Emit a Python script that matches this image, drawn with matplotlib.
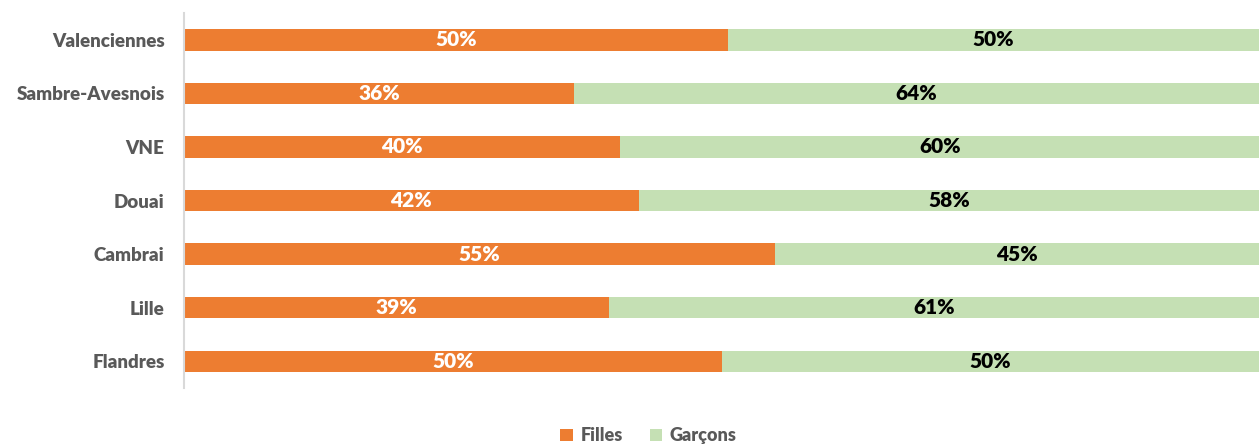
import matplotlib
matplotlib.use("Agg")
import matplotlib.pyplot as plt
import numpy as np

plt.rcParams['font.family'] = ['Lato', 'DejaVu Sans']
plt.rcParams['font.weight'] = 'heavy'

# top to bottom as in the picture
zones = ["Valenciennes", "Sambre-Avesnois", "VNE", "Douai", "Cambrai", "Lille", "Flandres"]
filles = [50.6, 36.3, 40.6, 42.3, 55.0, 39.5, 50.0]
garcons = [49.4, 63.7, 59.4, 57.7, 45.0, 60.5, 50.0]
labels_filles = ["50%", "36%", "40%", "42%", "55%", "39%", "50%"]
labels_garcons = ["50%", "64%", "60%", "58%", "45%", "61%", "50%"]

ORANGE = "#ED7D31"
GREEN = "#C5E0B4"
GREY = "#595959"

fig = plt.figure(figsize=(12.59, 4.45), dpi=100)
ax = fig.add_axes([184 / 1259, 57 / 445, 1 - 184 / 1259, 375 / 445])

y = np.arange(len(zones))
b1 = ax.barh(y, filles, height=0.4, color=ORANGE, label="Filles")
b2 = ax.barh(y, garcons, left=filles, height=0.4, color=GREEN, label="Garçons")

ax.bar_label(b1, labels=labels_filles, label_type="center", color="white",
             fontsize=15, fontweight="heavy")
ax.bar_label(b2, labels=labels_garcons, label_type="center", color="black",
             fontsize=15, fontweight="heavy")

ax.set_xlim(0, 100)
ax.set_ylim(len(zones) - 0.5, -0.5)
ax.set_yticks(y)
ax.set_yticklabels(zones, fontsize=13.5, fontweight="heavy", color=GREY)
ax.tick_params(axis="y", length=0, pad=14)
ax.set_xticks([])
for s in ["top", "right", "bottom"]:
    ax.spines[s].set_visible(False)
ax.spines["left"].set_color("#D9D9D9")
ax.spines["left"].set_linewidth(1.5)

leg = fig.legend(loc="lower center", bbox_to_anchor=(0.515, -0.035), ncol=2, frameon=False,
                 fontsize=13, handlelength=0.7, handleheight=0.7, columnspacing=1.5,
                 handletextpad=0.4)
for t in leg.get_texts():
    t.set_color(GREY)

fig.savefig("out.png", dpi=100)
